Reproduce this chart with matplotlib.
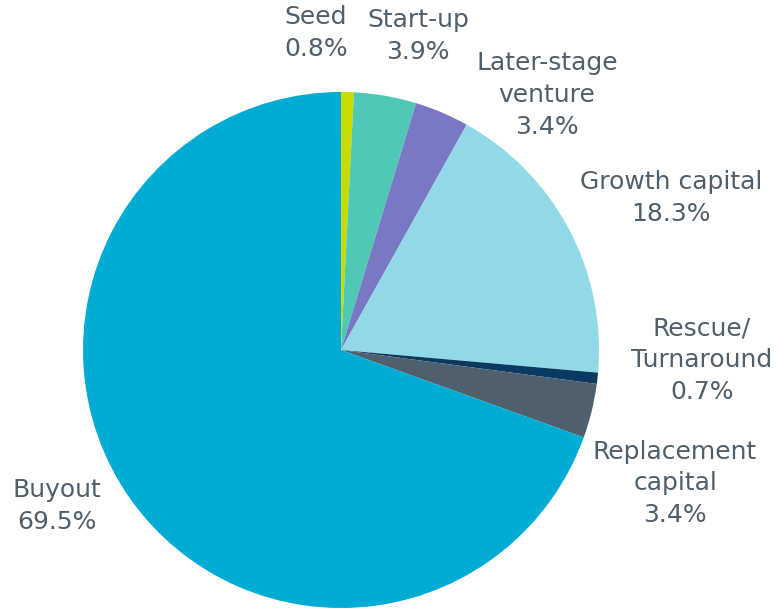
import matplotlib
matplotlib.use("Agg")
import matplotlib.pyplot as plt
import numpy as np

categories = ["Seed", "Start-up", "Later-stage\nventure", "Growth capital",
              "Rescue/\nTurnaround", "Replacement\ncapital", "Buyout"]
values = [0.8, 3.9, 3.4, 18.3, 0.7, 3.4, 69.5]
colors = ["#c8dc00", "#4fc9b5", "#7878c4", "#92d9e8", "#0a3a60", "#4f5f6b", "#00acd4"]
# label anchor positions (data units, pie radius = 1)
label_pos = [(-0.097, 1.229), (0.298, 1.218), (0.798, 0.988), (1.279, 0.589),
             (1.399, -0.039), (1.295, -0.516), (-1.101, -0.605)]

W, H = 779, 609
fig = plt.figure(figsize=(W / 100, H / 100), dpi=100)
cx, cy, r = 341, 350, 258
ax = fig.add_axes([(cx - r) / W, (H - cy - r) / H, 2 * r / W, 2 * r / H])
ax.pie(values, colors=colors, startangle=90, counterclock=False, radius=1,
       wedgeprops=dict(linewidth=0))
ax.set_xlim(-1, 1)
ax.set_ylim(-1, 1)
ax.set_aspect("equal")
ax.axis("off")

for cat, v, (x, y) in zip(categories, values, label_pos):
    ax.text(x, y, f"{cat}\n{v:.1f}%", ha="center", va="center", fontsize=18,
            color="#4f5f6b", linespacing=1.4, clip_on=False,
            family=["DejaVu Sans"])

fig.savefig("out.png", dpi=100)
